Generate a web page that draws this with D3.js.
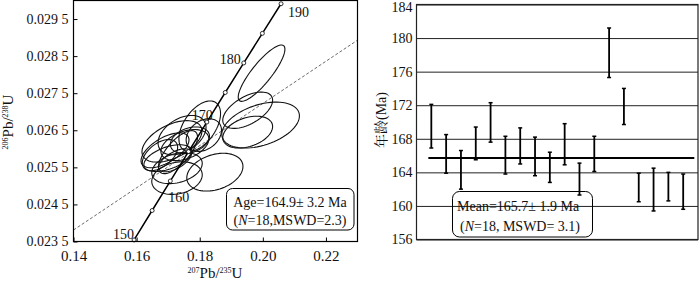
<!DOCTYPE html>
<html>
<head>
<meta charset="utf-8">
<script src="https://cdn.jsdelivr.net/npm/d3@7"></script>
<style>
  body { margin: 0; background: #fff; }
  svg { display: block; }
  text { font-family: "Liberation Serif", "Times New Roman", "Noto Serif CJK SC", "Noto Sans CJK SC", serif; fill: #111; }
</style>
</head>
<body>
<svg id="chart" width="700" height="281"></svg>
<script>
// ---- concordia panel data ----
const concordiaAges = [150, 155, 160, 165, 170, 175, 180, 185, 190];
const concordiaX = [0.15920, 0.16492, 0.17067, 0.17645, 0.18226, 0.18809, 0.19396, 0.19985, 0.20577];
const concordiaY = [0.023542, 0.024336, 0.025131, 0.025926, 0.026722, 0.027519, 0.028316, 0.029114, 0.029912];
const concordiaLabels = [150, 160, 170, 180, 190];

// discordia / reference dashed line end points
const discordiaX = [0.14, 0.23];
const discordiaY = [0.02381, 0.02893];

// error ellipses: centre, half-width, half-height, correlation
const ellipseCx = [0.1996, 0.1952, 0.1993, 0.1952, 0.1848, 0.1712, 0.1728, 0.1800, 0.1728,
                   0.1690, 0.1753, 0.1731, 0.1699, 0.1769, 0.1813, 0.1674, 0.1744, 0.1722];
const ellipseCy = [0.02804, 0.02704, 0.02664, 0.02645, 0.02537, 0.02620, 0.02548, 0.02661, 0.02521,
                   0.02596, 0.02610, 0.02591, 0.02575, 0.02623, 0.02637, 0.02583, 0.02637, 0.02569];
const ellipseSx = [0.0074, 0.0079, 0.0123, 0.0079, 0.0089, 0.0095, 0.0080, 0.0066, 0.0080,
                   0.0076, 0.0076, 0.0062, 0.0076, 0.0062, 0.0056, 0.0056, 0.0076, 0.0052];
const ellipseSy = [0.00076, 0.00049, 0.00062, 0.00043, 0.00051, 0.00056, 0.00042, 0.00068, 0.00044,
                   0.00047, 0.00042, 0.00058, 0.00036, 0.00036, 0.00044, 0.00042, 0.00053, 0.00031];
const ellipseRho = [0.85, 0.55, 0.4, 0.35, 0.3, 0.5, 0.3, 0.5, 0.2,
                    0.6, 0.4, 0.7, 0.5, 0.3, 0.3, 0.5, 0.4, 0.6];

const xTicksL = [0.14, 0.16, 0.18, 0.20, 0.22];
const yTicksL = [0.0235, 0.0245, 0.0255, 0.0265, 0.0275, 0.0285, 0.0295];

// ---- weighted mean panel data ----
const ageHigh = [172.1, 168.5, 166.6, 169.4, 172.3, 168.3, 169.3, 168.2, 166.4,
                 169.8, 165.1, 168.3, 181.2, 174.0, 163.9, 164.5, 164.0, 163.8];
const ageLow = [166.9, 163.9, 162.0, 165.5, 167.6, 163.8, 165.0, 163.6, 162.8,
                164.9, 161.3, 164.1, 175.3, 169.7, 160.5, 159.4, 160.6, 159.6];
const meanAge = 165.7;
const yTicksR = [156, 160, 164, 168, 172, 176, 180, 184];

const svg = d3.select("#chart");

// ================= left: concordia =================
const left = { x0: 73.5, x1: 357.5, y0: 0.5, y1: 241.5 };

const x = d3.scaleLinear().domain([0.14, 0.23]).range([left.x0, left.x1]);
const y = d3.scaleLinear().domain([0.0235, 0.0300]).range([left.y1, left.y0]);

const gL = svg.append("g");

gL.append("defs").append("clipPath").attr("id", "clipL")
    .append("rect")
    .attr("x", left.x0).attr("y", left.y0)
    .attr("width", left.x1 - left.x0).attr("height", left.y1 - left.y0);

const plotL = gL.append("g").attr("clip-path", "url(#clipL)");

// dashed reference line
plotL.append("line")
    .attr("x1", x(discordiaX[0])).attr("y1", y(discordiaY[0]))
    .attr("x2", x(discordiaX[1])).attr("y2", y(discordiaY[1]))
    .attr("stroke", "#444")
    .attr("stroke-width", 0.8)
    .attr("stroke-dasharray", "3,2");

// ellipses
const ellipseLine = d3.line().curve(d3.curveLinearClosed);
const steps = d3.range(0, 72).map((i) => i / 72 * 2 * Math.PI);

ellipseCx.forEach((cx, i) => {
    const sx = ellipseSx[i], sy = ellipseSy[i], r = ellipseRho[i];
    const pts = steps.map((t) => [
        x(cx + sx * Math.cos(t)),
        y(ellipseCy[i] + sy * (r * Math.cos(t) + Math.sqrt(1 - r * r) * Math.sin(t)))
    ]);
    plotL.append("path")
        .attr("d", ellipseLine(pts))
        .attr("fill", "none")
        .attr("stroke", "#111")
        .attr("stroke-width", 1.1);
});

// concordia curve
const concPts = concordiaX.map((v, i) => [x(v), y(concordiaY[i])]);
plotL.append("path")
    .attr("d", d3.line()(concPts))
    .attr("fill", "none")
    .attr("stroke", "#000")
    .attr("stroke-width", 1.5);

gL.selectAll(".conc-dot")
    .data(concPts)
    .join("circle")
    .attr("class", "conc-dot")
    .attr("cx", (d) => d[0])
    .attr("cy", (d) => d[1])
    .attr("r", 2)
    .attr("fill", "#fff")
    .attr("stroke", "#000")
    .attr("stroke-width", 0.8);

// age labels along concordia
const labelOffset = { 150: [-21, -1], 160: [-2, 21], 170: [-15, -2], 180: [-24, 1], 190: [7, 13] };
concordiaLabels.forEach((age) => {
    const i = concordiaAges.indexOf(age);
    gL.append("text")
        .attr("x", concPts[i][0] + labelOffset[age][0])
        .attr("y", concPts[i][1] + labelOffset[age][1])
        .attr("font-size", 14)
        .text(age);
});

// frame
gL.append("rect")
    .attr("x", left.x0).attr("y", left.y0)
    .attr("width", left.x1 - left.x0).attr("height", left.y1 - left.y0)
    .attr("fill", "none")
    .attr("stroke", "#000")
    .attr("stroke-width", 1.2);

// axes with inward ticks
const fmtL = (d) => {
    const s = d.toFixed(4);
    return s.slice(0, 5) + " " + s.slice(5);
};

gL.append("g")
    .attr("transform", `translate(0, ${left.y1})`)
    .call(d3.axisBottom(x).tickValues(xTicksL).tickSize(-4).tickPadding(9).tickFormat(d3.format(".2f")))
    .call((g) => g.select(".domain").remove())
    .call((g) => g.selectAll("line").attr("stroke", "#000"))
    .call((g) => g.selectAll("text").attr("font-size", 15).attr("font-family", "Liberation Serif").attr("fill", "#111"));

gL.append("g")
    .attr("transform", `translate(${left.x0}, 0)`)
    .call(d3.axisLeft(y).tickValues(yTicksL).tickSize(-4).tickPadding(5).tickFormat(fmtL))
    .call((g) => g.select(".domain").remove())
    .call((g) => g.selectAll("line").attr("stroke", "#000"))
    .call((g) => g.selectAll("text").attr("font-size", 14).attr("font-family", "Liberation Serif").attr("fill", "#111"));

// axis titles
function ratioTitle(sel, sup1, el1, sup2, el2) {
    sel.append("tspan").attr("font-size", 8).attr("dy", -5).text(sup1);
    sel.append("tspan").attr("font-size", 15).attr("dy", 5).text(el1 + "/");
    sel.append("tspan").attr("font-size", 8).attr("dy", -5).text(sup2);
    sel.append("tspan").attr("font-size", 15).attr("dy", 5).text(el2);
}

ratioTitle(gL.append("text")
    .attr("text-anchor", "middle")
    .attr("transform", "translate(13, 122) rotate(-90)"), "206", "Pb", "238", "U");

ratioTitle(gL.append("text")
    .attr("text-anchor", "middle")
    .attr("x", 215).attr("y", 278), "207", "Pb", "235", "U");

// result box
gL.append("rect")
    .attr("x", 226.5).attr("y", 188.5)
    .attr("width", 127.5).attr("height", 41.5)
    .attr("rx", 6)
    .attr("fill", "#fff")
    .attr("stroke", "#000")
    .attr("stroke-width", 1);

gL.append("text")
    .attr("x", 290).attr("y", 207)
    .attr("text-anchor", "middle")
    .attr("font-size", 14)
    .text("Age=164.9± 3.2 Ma");

const t2 = gL.append("text")
    .attr("x", 290).attr("y", 225)
    .attr("text-anchor", "middle")
    .attr("font-size", 14);
t2.append("tspan").text("(");
t2.append("tspan").attr("font-style", "italic").text("N");
t2.append("tspan").text("=18,MSWD=2.3)");

// ================= right: weighted mean =================
const right = { x0: 416.5, x1: 698, y0: 4.5, y1: 239.5 };
const xr = d3.scaleLinear().domain([0, 19]).range([right.x0, right.x1]);
const yr = d3.scaleLinear().domain([156, 184]).range([right.y1, right.y0]);

const gR = svg.append("g");

gR.append("g")
    .attr("transform", `translate(${right.x0}, 0)`)
    .call(d3.axisLeft(yr).tickValues(yTicksR).tickSize(-(right.x1 - right.x0)).tickPadding(4).tickFormat(d3.format("d")))
    .call((g) => g.select(".domain").remove())
    .call((g) => g.selectAll("line").attr("stroke", "#222").attr("stroke-width", 1))
    .call((g) => g.selectAll("text").attr("font-size", 14).attr("font-family", "Liberation Serif").attr("fill", "#111"))
    // keep the top label inside the picture
    .call((g) => g.selectAll("text").filter((d) => d === 184).attr("dy", "0.48em"));

gR.append("rect")
    .attr("x", right.x0).attr("y", right.y0)
    .attr("width", right.x1 - right.x0).attr("height", right.y1 - right.y0)
    .attr("fill", "none")
    .attr("stroke", "#222")
    .attr("stroke-width", 1.2);

// mean line
gR.append("line")
    .attr("x1", xr(0.8)).attr("x2", xr(18.75))
    .attr("y1", yr(meanAge)).attr("y2", yr(meanAge))
    .attr("stroke", "#000")
    .attr("stroke-width", 2);

// error bars
const bars = gR.selectAll(".bar")
    .data(ageHigh.map((h, i) => ({ i: i + 1, hi: h, lo: ageLow[i] })))
    .join("g")
    .attr("class", "bar");

bars.append("line")
    .attr("x1", (d) => xr(d.i)).attr("x2", (d) => xr(d.i))
    .attr("y1", (d) => yr(d.hi)).attr("y2", (d) => yr(d.lo))
    .attr("stroke", "#000")
    .attr("stroke-width", 1.8);

["hi", "lo"].forEach((k) => {
    bars.append("line")
        .attr("x1", (d) => xr(d.i) - 2).attr("x2", (d) => xr(d.i) + 2)
        .attr("y1", (d) => yr(d[k])).attr("y2", (d) => yr(d[k]))
        .attr("stroke", "#000")
        .attr("stroke-width", 1.5);
});

// y title
gR.append("text")
    .attr("transform", "translate(386, 120) rotate(-90)")
    .attr("text-anchor", "middle")
    .attr("font-size", 14)
    .text("年龄(Ma)");

// mean box
gR.append("rect")
    .attr("x", 452.5).attr("y", 191.5)
    .attr("width", 140).attr("height", 45.5)
    .attr("rx", 7)
    .attr("fill", "none")
    .attr("stroke", "#000")
    .attr("stroke-width", 1);

gR.append("text")
    .attr("x", 457).attr("y", 211)
    .attr("font-size", 14)
    .text("Mean=165.7± 1.9 Ma");

const r2 = gR.append("text")
    .attr("x", 460).attr("y", 231)
    .attr("font-size", 14);
r2.append("tspan").text("(");
r2.append("tspan").attr("font-style", "italic").text("N");
r2.append("tspan").text("=18,  MSWD= 3.1)");
</script>
</body>
</html>
